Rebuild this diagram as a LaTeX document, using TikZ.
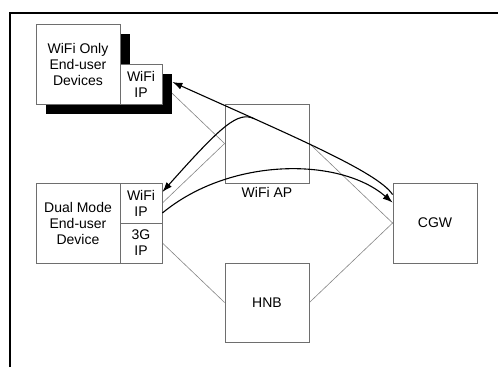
\documentclass[tikz,border=0pt]{standalone}
\usepackage{fontspec}
\setmainfont{Liberation Sans}
\usetikzlibrary{arrows.meta,shadows,backgrounds}

\definecolor{boxgray}{HTML}{6E6E6E}
\definecolor{linkgray}{HTML}{858585}

\begin{document}
\begin{tikzpicture}[x=1pt,y=-1pt,
    box/.style={draw=boxgray,fill=white,line width=0.8pt,align=center,inner sep=0pt,
      minimum width=84pt,minimum height=80pt,font=\fontsize{14}{16}\selectfont},
    ipbox/.style={box,minimum width=42pt,minimum height=40pt},
    devshadow/.style={general shadow={fill=black,shadow xshift=10pt,shadow yshift=-10pt}},
    link/.style={draw=linkgray,line width=0.6pt},
    flow/.style={draw=black,line width=1.1pt,-{Latex[length=10pt,width=7pt]}},
    every label/.style={font=\fontsize{14}{16}\selectfont},]

    \useasboundingbox (0,0) rectangle (498,367);

    % frame
    \draw[line width=1.5pt] (10,367) -- (10,13) -- (498,13);

    % devices
    \node[box,devshadow] (wifionly) at (78,64) {WiFi Only\\End-user\\Devices};
    \node[ipbox,devshadow] (wifionlyip) at (141,84) {WiFi\\IP};

    \node[box] (dual) at (78,223) {Dual Mode\\End-user\\Device};
    \node[ipbox] (dualwifi) at (141,203) {WiFi\\IP};
    \node[ipbox] (dual3g) at (141,243) {3G\\IP};

    % network
    \node[box,minimum height=79pt,
      label={[label distance=4pt,inner sep=0pt]below:WiFi AP}] (ap) at (267,143.5) {};
    \node[box] (cgw) at (435,223) {CGW};
    \node[box,minimum height=79pt] (hnb) at (267,302.5) {HNB};

    \begin{scope}[on background layer]
      \draw[link] (wifionlyip.east) -- (ap.west);
      \draw[link] (dualwifi.east) -- (ap.west);
      \draw[link] (ap.east) -- (cgw.west);
      \draw[link] (dual3g.east) -- (hnb.west);
      \draw[link] (hnb.east) -- (cgw.west);
    \end{scope}

    % flows
    \draw[flow] ([yshift=-12pt]cgw.north west) .. controls (378,172) and (290,135) ..
      ([xshift=10pt,yshift=2pt]wifionlyip.east) coordinate[pos=0.75] (split);
    \draw[flow] (split) .. controls (238,111) and (222,125) .. ([yshift=11pt]dualwifi.east);
    \draw[flow] ([yshift=-10pt]dualwifi.east) .. controls (230,157) and (340,157) ..
      ([yshift=-20pt]cgw.north west);

  \end{tikzpicture}
\end{document}
